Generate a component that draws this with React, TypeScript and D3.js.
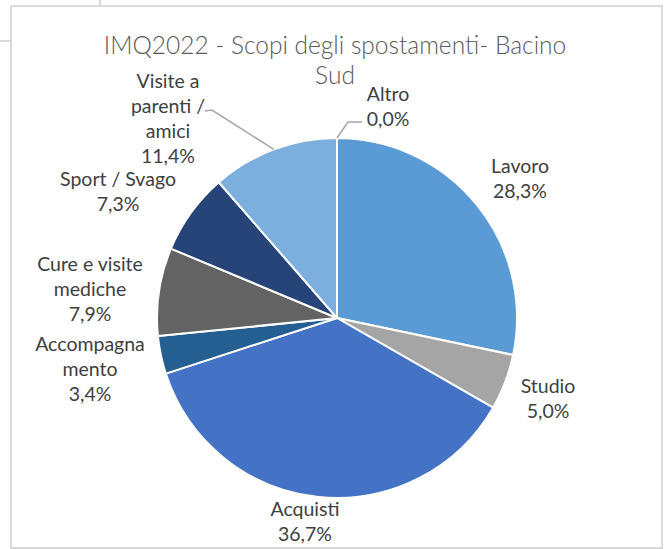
import React from "react";
import * as d3 from "d3";

const categories = ["Lavoro", "Studio", "Acquisti", "Accompagnamento", "Cure e visite mediche", "Sport / Svago", "Visite a parenti / amici", "Altro"];
const values = [28.3, 5.0, 36.7, 3.4, 7.9, 7.3, 11.4, 0.0];
const valueLabels = ["28,3%", "5,0%", "36,7%", "3,4%", "7,9%", "7,3%", "11,4%", "0,0%"];
const labelLines = [["Lavoro"], ["Studio"], ["Acquisti"], ["Accompagna", "mento"], ["Cure e visite", "mediche"], ["Sport / Svago"], ["Visite a", "parenti /", "amici"], ["Altro"]];
const colors = ["#5B9BD5", "#A5A5A5", "#4472C4", "#255E91", "#636363", "#264478", "#7CAFDD", "#698ED0"];
const titleLines = ["IMQ2022 - Scopi degli spostamenti- Bacino", "Sud"];

// layout (label centres, first line centre y)
const labelPos: [number, number][] = [
  [520, 165], [548, 385], [305, 508], [90, 343], [90, 263], [118, 178], [168, 80], [388, 93],
];

const W = 664, H = 549;
const cx = 337, cy = 318, R = 180;
const LH = 25;
const FONT = "Lato, 'Open Sans', sans-serif";

export default function App() {
  const pie = d3.pie<number>().value((d) => d).sort(null);
  const arcs = pie(values);
  const arc = d3.arc<d3.PieArcDatum<number>>().innerRadius(0).outerRadius(R);
  const mid = (a: d3.PieArcDatum<number>) => (a.startAngle + a.endAngle) / 2;
  const edge = (a: d3.PieArcDatum<number>) => {
    const m = mid(a);
    return [cx + R * Math.sin(m), cy - R * Math.cos(m)];
  };
  const vis = edge(arcs[6]);
  const alt = edge(arcs[7]);
  return (
    <svg width={W} height={H} style={{ position: "absolute", left: 0, top: 0, background: "#fff" }}>
      <rect x={0} y={0} width={W} height={H} fill="#fff" />
      {/* frame */}
      <rect x={11} y={6} width={651} height={542} fill="#fff" stroke="#D9D9D9" strokeWidth={2} />
      <line x1={0} y1={41} x2={10} y2={41} stroke="#D9D9D9" strokeWidth={2} />
      <line x1={100} y1={0} x2={100} y2={5} stroke="#D9D9D9" strokeWidth={2} />
      <g fontFamily={FONT} fill="#595959" textAnchor="middle" fontWeight={300}>
        {titleLines.map((t, i) => (
          <text key={i} x={335} y={44 + i * 30} fontSize={24.5} dominantBaseline="central">{t}</text>
        ))}
      </g>
      <g transform={`translate(${cx},${cy})`}>
        {arcs.map((a, i) => (
          <path key={i} d={arc(a) || ""} fill={colors[i]} stroke="#fff" strokeWidth={2} strokeLinejoin="round" />
        ))}
      </g>
      <path d={`M205,111 L212,110 L${vis[0]},${vis[1]}`} fill="none" stroke="#A6A6A6" strokeWidth={1.5} />
      <path d={`M362,122 L348,122 L${alt[0]},${alt[1]}`} fill="none" stroke="#A6A6A6" strokeWidth={1.5} />
      <g fontFamily={FONT} fill="#404040" textAnchor="middle" fontSize={19.5}>
        {categories.map((c, i) => {
          const lines = [...labelLines[i], valueLabels[i]];
          return (
            <text key={c}>
              {lines.map((l, j) => (
                <tspan key={j} x={labelPos[i][0]} y={labelPos[i][1] + j * LH} dominantBaseline="central">{l}</tspan>
              ))}
            </text>
          );
        })}
      </g>
    </svg>
  );
}
